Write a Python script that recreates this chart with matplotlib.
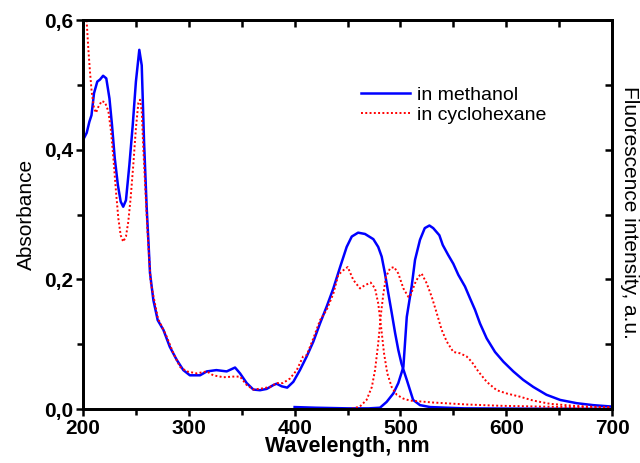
import matplotlib
matplotlib.use("Agg")
import matplotlib.pyplot as plt
from matplotlib.ticker import MultipleLocator, FuncFormatter

# Absorption in methanol
abs_meoh_wl = [201, 203.5, 206, 208, 210.4, 213.5, 216, 219, 222, 225, 227.4, 230, 233, 235.6, 238,
               240.6, 243.8, 247, 250, 253.2, 255.5, 257.7, 260.2, 262, 263.3, 266.5, 270.6, 276, 282,
               288.5, 294.8, 301, 310.6, 317, 326, 335.8, 343.7, 348.4, 354.7, 361, 367.3, 373.6, 380,
               383, 387.8, 393, 398.8, 405, 411.4, 417.7, 424, 430.3, 436.6, 443, 449.2, 454, 460,
               466.5, 474.4, 479, 482.3, 485.4, 488.6, 491.8, 495, 498, 501, 506, 512, 518.5, 528,
               560, 620, 700]
abs_meoh = [0.418, 0.426, 0.443, 0.453, 0.487, 0.505, 0.508, 0.514, 0.51, 0.479, 0.438, 0.387, 0.345,
            0.32, 0.312, 0.322, 0.376, 0.438, 0.505, 0.554, 0.53, 0.412, 0.31, 0.253, 0.21, 0.168,
            0.137, 0.122, 0.096, 0.076, 0.06, 0.052, 0.052, 0.058, 0.06, 0.058, 0.064, 0.055, 0.04,
            0.030, 0.029, 0.031, 0.037, 0.039, 0.035, 0.033, 0.042, 0.06, 0.081, 0.104, 0.132,
            0.158, 0.186, 0.219, 0.25, 0.266, 0.272, 0.27, 0.262, 0.25, 0.235, 0.209, 0.178, 0.148,
            0.117, 0.091, 0.07, 0.045, 0.014, 0.006, 0.003, 0.001, 0.0005, 0.0003]

# Fluorescence in methanol
fl_meoh_wl = [400, 420, 450, 470, 480.7, 487, 493.3, 498, 502.8, 506, 510.6, 513.8, 518.5, 523, 527.4,
              531, 536.8, 540, 545, 550, 554.7, 561, 565.7, 570.5, 575.2, 581.5, 589.4, 597.3, 606.7,
              616, 625.6, 638, 651, 666.6, 682, 698]
fl_meoh = [0.003, 0.002, 0.001, 0.001, 0.002, 0.011, 0.024, 0.04, 0.065, 0.142, 0.189, 0.23, 0.261,
           0.279, 0.283, 0.279, 0.268, 0.253, 0.238, 0.224, 0.207, 0.189, 0.171, 0.153, 0.132, 0.109,
           0.088, 0.073, 0.058, 0.045, 0.034, 0.022, 0.014, 0.009, 0.006, 0.004]

# Absorption in cyclohexane
abs_chx_wl = [200, 203.5, 205, 206.6, 208.2, 210.4, 212.3, 214.5, 217.7, 220.8, 224, 226.5, 228.7,
              231.2, 233.4, 235.6, 238, 240.6, 242.8, 245, 247.5, 250, 252.3, 253.9, 255.5, 257,
              258.9, 261, 264, 270.8, 279, 285.4, 291.7, 298, 307.5, 317, 323, 332.6, 342, 348.4,
              354.7, 361, 370.4, 376.7, 383, 389, 395.6, 402, 408, 411.4, 417.7, 424, 430.3, 436.6,
              441.3, 446, 450.2, 455.5, 461.8, 466.5, 471.9, 476, 479, 481.7, 484.5, 487.6, 491.7,
              496.5, 502.8, 509, 531, 562.6, 594, 625, 657, 698]
abs_chx = [0.68, 0.597, 0.556, 0.52, 0.489, 0.464, 0.457, 0.466, 0.475, 0.473, 0.459, 0.428, 0.387,
           0.335, 0.294, 0.268, 0.258, 0.266, 0.289, 0.325, 0.376, 0.433, 0.472, 0.477, 0.459, 0.402,
           0.34, 0.273, 0.195, 0.14, 0.112, 0.086, 0.065, 0.058, 0.055, 0.058, 0.052, 0.049, 0.05,
           0.05, 0.037, 0.030, 0.032, 0.034, 0.04, 0.04, 0.047, 0.06, 0.081, 0.083, 0.109, 0.137,
           0.153, 0.178, 0.207, 0.214, 0.219, 0.199, 0.186, 0.191, 0.195, 0.186, 0.163, 0.127,
           0.086, 0.055, 0.034, 0.022, 0.016, 0.013, 0.01, 0.007, 0.005, 0.004, 0.003, 0.002]

# Fluorescence in cyclohexane
fl_chx_wl = [450, 455.5, 461.8, 468, 473, 476, 479, 481.7, 483.9, 486.4, 490.2, 494, 498, 502.8,
             507.5, 509, 513.8, 517, 520, 524.8, 529.6, 534.3, 539, 543.8, 550, 556.3, 562.6, 567.3,
             573.6, 581.5, 591, 600.4, 613, 625.6, 641.4, 663.4, 688, 698]
fl_chx = [0.0, 0.001, 0.004, 0.014, 0.034, 0.06, 0.101, 0.148, 0.178, 0.204, 0.217, 0.219, 0.209,
          0.186, 0.173, 0.173, 0.194, 0.204, 0.209, 0.194, 0.173, 0.148, 0.122, 0.104, 0.088, 0.086,
          0.081, 0.073, 0.058, 0.042, 0.029, 0.024, 0.019, 0.013, 0.008, 0.005, 0.003, 0.003]

legend_labels = ["in methanol", "in cyclohexane"]
x_label = "Wavelength, nm"
y_label = "Absorbance"
y2_label = "Fluorescence intensity, a.u."

plt.rcParams['font.family'] = ['Liberation Sans', 'DejaVu Sans']

fig = plt.figure(figsize=(6.4, 4.63), dpi=100)
ax = fig.add_axes([0.1297, 0.1166, 0.8266, 0.8402])

blue = '#0000ff'
red = '#ff0000'
l1, = ax.plot(abs_meoh_wl, abs_meoh, color=blue, lw=1.8, label=legend_labels[0])
ax.plot(fl_meoh_wl, fl_meoh, color=blue, lw=1.8)
l2, = ax.plot(abs_chx_wl, abs_chx, color=red, lw=1.4, ls=(0, (1, 1.2)), label=legend_labels[1])
ax.plot(fl_chx_wl, fl_chx, color=red, lw=1.4, ls=(0, (1, 1.2)))

ax.set_xlim(200, 700)
ax.set_ylim(0, 0.6)

ax.xaxis.set_major_locator(MultipleLocator(100))
ax.xaxis.set_minor_locator(MultipleLocator(50))
ax.yaxis.set_major_locator(MultipleLocator(0.2))
ax.yaxis.set_minor_locator(MultipleLocator(0.1))
ax.yaxis.set_major_formatter(FuncFormatter(lambda v, p: f"{v:.1f}".replace('.', ',')))

for s in ax.spines.values():
    s.set_linewidth(1.8)

ax.tick_params(axis='both', which='major', direction='out', length=5, width=1.8,
               labelsize=15, pad=2)
ax.tick_params(axis='both', which='minor', direction='out', length=4, width=1.8)
for lab in ax.get_xticklabels() + ax.get_yticklabels():
    lab.set_fontweight('bold')

# top and right ticks (inward, no labels)
axt = ax.twiny()
axt.set_xlim(ax.get_xlim())
axt.xaxis.set_major_locator(MultipleLocator(50))
axt.tick_params(axis='x', direction='in', length=5, width=1.8, labeltop=False)
axr = ax.twinx()
axr.set_ylim(ax.get_ylim())
axr.yaxis.set_major_locator(MultipleLocator(0.1))
axr.tick_params(axis='y', direction='in', length=5, width=1.8, labelright=False)
for a in (axt, axr):
    for s in a.spines.values():
        s.set_linewidth(1.8)

ax.set_xlabel(x_label, fontsize=15.5, fontweight='bold', labelpad=-1)
ax.set_ylabel(y_label, fontsize=15, labelpad=6)
fig.text(629 / 640, 1 - 212 / 463, y2_label, fontsize=15, rotation=-90,
         ha='center', va='center')

ax.legend(handles=[l1, l2], loc='upper left', bbox_to_anchor=(0.5255, 0.83), frameon=False,
          fontsize=14, handlelength=2.5, handletextpad=0.36, labelspacing=0.15, borderaxespad=0,
          borderpad=0)

fig.savefig("out.png", dpi=100)
